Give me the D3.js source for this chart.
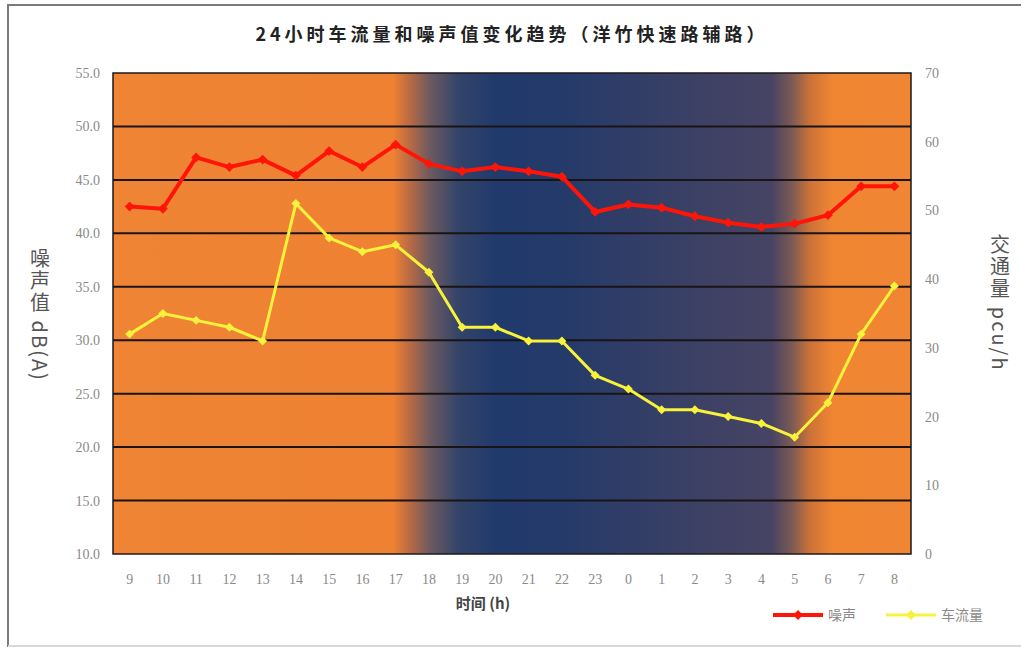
<!DOCTYPE html>
<html>
<head>
<meta charset="utf-8">
<script src="https://cdn.jsdelivr.net/npm/d3@7"></script>
<style>
  html, body { margin: 0; padding: 0; background: #fff; }
  svg { display: block; }
</style>
</head>
<body>
<svg id="chart" width="1021" height="649"></svg>
<script>
// Hours of the day, starting at 9 o'clock
const hours = ["9","10","11","12","13","14","15","16","17","18","19","20","21","22","23","0","1","2","3","4","5","6","7","8"];
// Noise level, dB(A)
const noise = [42.5,42.3,47.1,46.2,46.9,45.4,47.7,46.2,48.3,46.5,45.8,46.2,45.8,45.3,42.0,42.7,42.4,41.6,41.0,40.6,40.9,41.7,44.4,44.4];
// Traffic volume, pcu/h
const traffic = [32,35,34,33,31,51,46,44,45,41,33,33,31,31,26,24,21,21,20,19,17,22,32,39];
// Axis ticks
const noiseTicks = [10,15,20,25,30,35,40,45,50,55];
const trafficTicks = [0,10,20,30,40,50,60,70];

const svg = d3.select("#chart");
const W = 1021, H = 649;
const m = { left: 113, right: 911, top: 73, bottom: 554 };

// outer frame
svg.append("rect").attr("x", 8).attr("y", 5).attr("width", W + 10).attr("height", 641)
  .attr("fill", "#fff").attr("stroke", "#7a7a7a").attr("stroke-width", 2);
svg.append("line").attr("x1", 8).attr("x2", W).attr("y1", 646).attr("y2", 646)
  .attr("stroke", "#d8d8d8").attr("stroke-width", 2);

const x = d3.scaleBand().domain(hours).range([m.left, m.right]).padding(0);
const yL = d3.scaleLinear().domain([10, 55]).range([m.bottom, m.top]);
const yR = d3.scaleLinear().domain([0, 70]).range([m.bottom, m.top]);
const cx = d => x(d) + x.bandwidth() / 2;

// day / night background
const defs = svg.append("defs");
const grad = defs.append("linearGradient").attr("id", "daynight")
  .attr("gradientUnits", "userSpaceOnUse")
  .attr("x1", m.left).attr("x2", m.right).attr("y1", 0).attr("y2", 0);
const stops = [
  [113, "#ef8434"], [393, "#ee8232"], [410, "#b86a45"], [430, "#6c5a60"], [458, "#34446a"],
  [495, "#213a6c"], [560, "#243a6a"], [660, "#363f66"], [772, "#474463"], [792, "#7c5a55"],
  [810, "#cc7238"], [832, "#f08532"], [911, "#f08633"]
];
stops.forEach(([px, c]) => grad.append("stop")
  .attr("offset", ((px - m.left) / (m.right - m.left)))
  .attr("stop-color", c));

svg.append("rect").attr("x", m.left).attr("y", m.top)
  .attr("width", m.right - m.left).attr("height", m.bottom - m.top)
  .attr("fill", "url(#daynight)");

// horizontal gridlines from the noise axis
svg.append("g").selectAll("line").data(noiseTicks.slice(1, -1)).join("line")
  .attr("x1", m.left).attr("x2", m.right)
  .attr("y1", d => yL(d)).attr("y2", d => yL(d))
  .attr("stroke", "#1a1414").attr("stroke-width", 2);

// plot border
svg.append("rect").attr("x", m.left).attr("y", m.top)
  .attr("width", m.right - m.left).attr("height", m.bottom - m.top)
  .attr("fill", "none").attr("stroke", "#1e1a1a").attr("stroke-width", 1.5);

const tickFont = "'Liberation Serif', 'DejaVu Serif', serif";

// left axis
const axL = svg.append("g").attr("transform", `translate(${m.left},0)`)
  .call(d3.axisLeft(yL).tickValues(noiseTicks).tickFormat(d3.format(".1f")).tickSize(0).tickPadding(13));
axL.select(".domain").remove();
axL.selectAll("text").attr("font-family", tickFont).attr("font-size", 14).attr("fill", "#8a8a8a");

// right axis
const axR = svg.append("g").attr("transform", `translate(${m.right},0)`)
  .call(d3.axisRight(yR).tickValues(trafficTicks).tickSize(0).tickPadding(14));
axR.select(".domain").remove();
axR.selectAll("text").attr("font-family", tickFont).attr("font-size", 14).attr("fill", "#8a8a8a");

// bottom axis
const axB = svg.append("g").attr("transform", `translate(0,${m.bottom})`)
  .call(d3.axisBottom(x).tickSize(0).tickPadding(20));
axB.select(".domain").remove();
axB.selectAll("text").attr("font-family", tickFont).attr("font-size", 14).attr("fill", "#8a8a8a");

// title
svg.append("text").attr("x", 512).attr("y", 41).attr("text-anchor", "middle")
  .attr("font-family", "'Noto Sans CJK SC', sans-serif").attr("font-weight", 700)
  .attr("font-size", 18).attr("letter-spacing", 4).attr("fill", "#222")
  .text("24小时车流量和噪声值变化趋势（洋竹快速路辅路）");

// x axis title
svg.append("text").attr("x", 483).attr("y", 609).attr("text-anchor", "middle")
  .attr("font-family", "'Noto Sans CJK SC', sans-serif").attr("font-weight", 700)
  .attr("font-size", 15).attr("fill", "#444")
  .text("时间 (h)");

// vertical axis titles
function vtitle(xp, yc, txt) {
  svg.append("text").attr("x", xp).attr("y", yc)
    .attr("text-anchor", "middle")
    .style("writing-mode", "vertical-rl")
    .style("text-orientation", "mixed")
    .attr("font-family", "'Noto Sans CJK SC', sans-serif")
    .attr("font-size", 20).attr("letter-spacing", 2).attr("fill", "#555")
    .text(txt);
}
vtitle(40, 315, "噪声值 dB(A)");
vtitle(1000, 303, "交通量 pcu/h");

// series: line with small square markers turned 45°
const marker = d3.symbol().type(d3.symbolSquare);

function series(vals, yScale, color, width, msize) {
  const line = d3.line().x((d, i) => cx(hours[i])).y(d => yScale(d));
  svg.append("path").datum(vals).attr("d", line)
    .attr("fill", "none").attr("stroke", color).attr("stroke-width", width)
    .attr("stroke-linejoin", "round");
  svg.append("g").selectAll("path").data(vals).join("path")
    .attr("transform", (d, i) => `translate(${cx(hours[i])},${yScale(d)}) rotate(45)`)
    .attr("d", marker.size(msize)).attr("fill", color);
}
series(noise, yL, "#ff1508", 4, 48);
series(traffic, yR, "#f7f23c", 3, 40);

// legend
const lg = svg.append("g");
function legendItem(x0, color, width, label) {
  lg.append("line").attr("x1", x0).attr("x2", x0 + 50).attr("y1", 615).attr("y2", 615)
    .attr("stroke", color).attr("stroke-width", width);
  lg.append("path").attr("transform", `translate(${x0 + 25},615) rotate(45)`)
    .attr("d", marker.size(48)).attr("fill", color);
  lg.append("text").attr("x", x0 + 55).attr("y", 620)
    .attr("font-family", "'Noto Sans CJK SC', sans-serif").attr("font-size", 14)
    .attr("fill", "#8a8a8a").text(label);
}
legendItem(773, "#ff1508", 4, "噪声");
legendItem(886, "#f7f23c", 3, "车流量");
</script>
</body>
</html>
